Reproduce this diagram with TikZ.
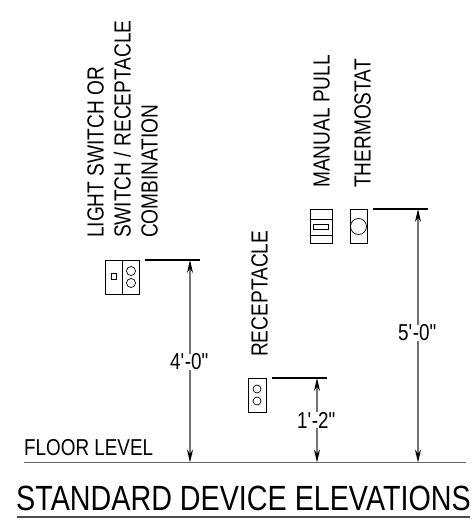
\documentclass[tikz,border=0pt]{standalone}
\usepackage{fontspec}
\setmainfont[FakeStretch=0.82]{Liberation Sans}
\usetikzlibrary{arrows.meta}
\tikzstyle{device} = [rectangle, draw=black, line width=0.9pt, inner sep=0pt]
\tikzstyle{dot} = [circle, draw=black, line width=0.7pt, inner sep=0pt]
\tikzstyle{caption} = [rotate=90, anchor=south west, align=left, inner sep=0pt, font=\fontsize{23.3}{27}\selectfont]
\tikzstyle{dimtext} = [inner sep=0pt, font=\fontsize{23}{25}\selectfont]
\tikzstyle{leader} = [line width=1.6pt, black]
\tikzstyle{dimline} = [line width=1.1pt, black!55, -{Stealth[length=13pt,width=6pt,black]}]
\newcommand{\ftin}[2]{#1\textquotesingle-#2\textquotedbl}
\begin{document}
\begin{tikzpicture}[x=1pt, y=-1pt]
    \useasboundingbox (0,0) rectangle (473,519);

    \node (lightBox) [device, minimum width=34pt, minimum height=34pt] at (122,277) {};
    \node (lightToggle) [device, minimum width=5pt, minimum height=6pt, line width=0.7pt] at (114,276) {};
    \node (lightDotA) [dot, minimum size=9pt] at (131,271) {};
    \node (lightDotB) [dot, minimum size=9pt] at (131,283) {};
    \draw [line width=0.9pt] (lightBox.north) -- (lightBox.south);

    \node (recBox) [device, minimum width=18pt, minimum height=34pt] at (257,395) {};
    \node (recDotA) [dot, minimum size=8pt] at (257,389) {};
    \node (recDotB) [dot, minimum size=8pt] at (257,401) {};

    \node (pullBox) [device, minimum width=22pt, minimum height=34pt] at (321,226) {};
    \node (pullHandle) [device, minimum width=15pt, minimum height=5pt, line width=0.7pt] at (321,226.5) {};
    \draw [line width=0.9pt] (310,219) -- (332,219);
    \draw [line width=0.9pt] (310,235) -- (332,235);

    \node (thermoBox) [device, minimum width=17pt, minimum height=34pt] at (358.5,226) {};
    \node (thermoDial) [dot, minimum size=16pt] at (358.5,226.5) {};

    \node (lightText) [caption] at (158,238) {LIGHT SWITCH OR\\SWITCH / RECEPTACLE\\COMBINATION};
    \node (recText) [caption] at (268,357) {RECEPTACLE};
    \node (pullText) [caption] at (330,188) {MANUAL PULL};
    \node (thermoText) [caption] at (371,188) {THERMOSTAT};

    \coordinate (floorLeft) at (24,462.5);
    \coordinate (floorRight) at (466,462.5);
    \coordinate (lightFloor) at (190,462.5);
    \coordinate (recFloor) at (317,462.5);
    \coordinate (thermoFloor) at (418,462.5);
    \coordinate (lightLeadA) at (145,260);
    \coordinate (lightLeadB) at (200,260);
    \coordinate (lightTop) at (190,260);
    \coordinate (recLeadA) at (272,378);
    \coordinate (recLeadB) at (327,378);
    \coordinate (recTop) at (317,378);
    \coordinate (thermoLeadA) at (373,209);
    \coordinate (thermoLeadB) at (428,209);
    \coordinate (thermoTop) at (418,209);

    \node (lightDim) [dimtext] at (190,362) {\ftin{4}{0}};
    \node (recDim) [dimtext] at (317,420) {\ftin{1}{2}};
    \node (thermoDim) [dimtext] at (418,333) {\ftin{5}{0}};
    \node (floorText) [inner sep=0pt, anchor=base west, font=\fontsize{23}{25}\selectfont] at (24,455) {FLOOR LEVEL};
    \node (titleText) [inner sep=0pt, anchor=base, font=\fontsize{35}{38}\selectfont] at (243.5,510) {STANDARD DEVICE ELEVATIONS};

    \draw [leader] (lightLeadA) -- (lightLeadB);
    \draw [leader] (recLeadA) -- (recLeadB);
    \draw [leader] (thermoLeadA) -- (thermoLeadB);

    \draw [dimline] (lightDim.north) -- (lightTop);
    \draw [dimline] (lightDim.south) -- (lightFloor);
    \draw [dimline] (recDim.north) -- (recTop);
    \draw [dimline] (recDim.south) -- (recFloor);
    \draw [dimline] (thermoDim.north) -- (thermoTop);
    \draw [dimline] (thermoDim.south) -- (thermoFloor);

    \draw [line width=1.4pt, black!60] (floorLeft) -- (floorRight);
    \coordinate (titleLeft) at (17,517);
    \coordinate (titleRight) at (470,517);
    \draw [line width=1.1pt, black!70] (titleLeft) -- (titleRight);
\end{tikzpicture}
\end{document}
